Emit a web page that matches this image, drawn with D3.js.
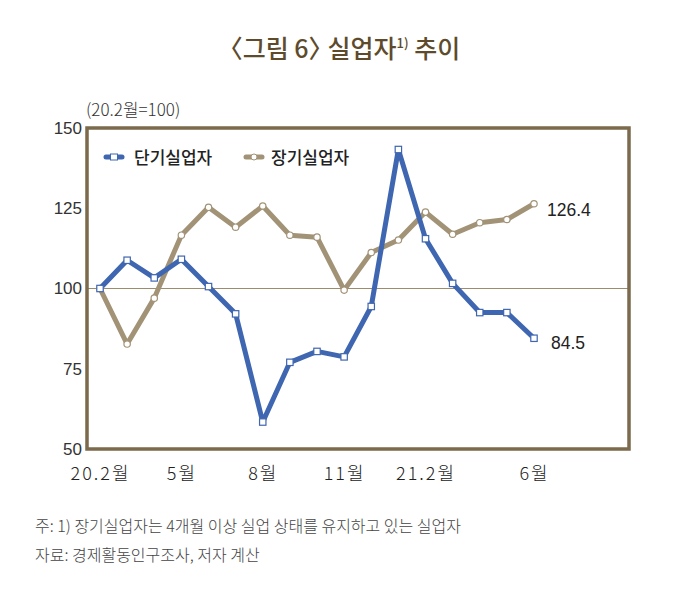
<!DOCTYPE html>
<html><head><meta charset="utf-8">
<script src="https://cdn.jsdelivr.net/npm/d3@7"></script>
<style>body{margin:0;background:#fff}svg{display:block}</style>
</head><body>
<svg id="c" width="687" height="591"></svg>
<script>
const months = ["20.2","20.3","20.4","20.5","20.6","20.7","20.8","20.9","20.10","20.11","20.12","21.1","21.2","21.3","21.4","21.5","21.6"];
const shortTerm = [100, 108.8, 103.3, 109.1, 100.6, 92.1, 58.4, 77.0, 80.4, 78.7, 94.4, 143.3, 115.5, 101.6, 92.5, 92.5, 84.5];
const longTerm = [100, 82.7, 97.0, 116.6, 125.3, 119.1, 125.7, 116.6, 116.0, 99.5, 111.2, 115.1, 123.8, 116.9, 120.5, 121.5, 126.4];
const yTicks = [50, 75, 100, 125, 150];
const xTickIdx = [0, 3, 6, 9, 12, 16];
const xTickLabels = ["20.2월", "5월", "8월", "11월", "21.2월", "6월"];
const seriesNames = ["단기실업자", "장기실업자"];

const svg = d3.select("#c");
const font = "'Noto Sans CJK KR','Noto Sans',sans-serif";
const numFont = "'Liberation Sans',Arial,sans-serif";
const blue = "#3f66b0", tan = "#a29377", frameC = "#7b6a4c";

const x = d3.scalePoint().domain(d3.range(months.length)).range([100, 534]);
const y = d3.scaleLinear().domain([50, 150]).range([449, 128]);

// title
const t = svg.append("text").attr("x", 339).attr("y", 58).attr("text-anchor", "middle")
  .attr("font-family", font).attr("font-size", 25).attr("font-weight", 500).attr("fill", "#5e4b2c");
t.append("tspan").text("〈그림 6〉");
t.append("tspan").attr("dx", -6).text("실업자");
t.append("tspan").attr("font-size", 13).attr("dy", -10).text("1)");
t.append("tspan").attr("dy", 10).text(" 추이");

// unit
svg.append("text").attr("x", 86).attr("y", 116).attr("font-family", font).attr("font-size", 17)
  .attr("font-weight", 300).attr("fill", "#333").text("(20.2월=100)");

// reference line at 100
svg.append("line").attr("x1", 88).attr("x2", 629).attr("y1", y(100)).attr("y2", y(100))
  .attr("stroke", "#9c8c6e").attr("stroke-width", 1.2);

// y axis labels
const yAxis = d3.axisLeft(y).tickValues(yTicks).tickSize(0).tickPadding(3);
const ya = svg.append("g").attr("transform", "translate(85,0)").call(yAxis);
ya.select(".domain").remove();
ya.selectAll("text").attr("font-family", numFont).attr("font-size", 17).attr("fill", "#333");

// x axis labels
const xAxis = d3.axisBottom(x).tickValues(xTickIdx).tickSize(0).tickPadding(0)
  .tickFormat((d) => xTickLabels[xTickIdx.indexOf(d)]);
const xa = svg.append("g").attr("transform", "translate(0,467)").call(xAxis);
xa.select(".domain").remove();
xa.selectAll("text").attr("font-family", font).attr("font-size", 18).attr("font-weight", 300)
  .attr("letter-spacing", 2).attr("fill", "#222");

// lines
const line = d3.line().x((d, i) => x(i)).y((d) => y(d));
svg.append("path").datum(longTerm).attr("d", line).attr("fill", "none").attr("stroke", tan)
  .attr("stroke-width", 5).attr("stroke-linejoin", "round");
svg.append("path").datum(shortTerm).attr("d", line).attr("fill", "none").attr("stroke", blue)
  .attr("stroke-width", 5).attr("stroke-linejoin", "round");
svg.selectAll(".lm").data(longTerm).join("circle").attr("cx", (d, i) => x(i)).attr("cy", (d) => y(d))
  .attr("r", 3.2).attr("fill", "#fff").attr("stroke", tan).attr("stroke-width", 1.2);
svg.selectAll(".sm").data(shortTerm).join("rect").attr("x", (d, i) => x(i) - 3.2).attr("y", (d) => y(d) - 3.2)
  .attr("width", 6.4).attr("height", 6.4).attr("fill", "#fff").attr("stroke", blue).attr("stroke-width", 1.2);

// end labels
svg.append("text").attr("x", 547).attr("y", y(longTerm[16]) + 12).attr("font-family", numFont)
  .attr("font-size", 17.5).attr("fill", "#222").text(longTerm[16].toFixed(1));
svg.append("text").attr("x", 551).attr("y", y(shortTerm[16]) + 11).attr("font-family", numFont)
  .attr("font-size", 17.5).attr("fill", "#222").text(shortTerm[16].toFixed(1));

// frame
svg.append("rect").attr("x", 87).attr("y", 128).attr("width", 542).attr("height", 321)
  .attr("fill", "none").attr("stroke", frameC).attr("stroke-width", 3.5);

// legend
const leg = [{c: blue, sq: true, x: 106, tx: 134}, {c: tan, sq: false, x: 246, tx: 271}];
leg.forEach((l, i) => {
  svg.append("line").attr("x1", l.x).attr("x2", l.x + 16).attr("y1", 157).attr("y2", 157)
    .attr("stroke", l.c).attr("stroke-width", 5).attr("stroke-linecap", "round");
  if (l.sq) svg.append("rect").attr("x", l.x + 4.5).attr("y", 154).attr("width", 7).attr("height", 6)
    .attr("fill", "#fff").attr("stroke", l.c).attr("stroke-width", 1);
  else svg.append("circle").attr("cx", l.x + 8).attr("cy", 157).attr("r", 3)
    .attr("fill", "#fff").attr("stroke", l.c).attr("stroke-width", 1);
  svg.append("text").attr("x", l.tx).attr("y", 163.5).attr("font-family", font).attr("font-size", 17)
    .attr("font-weight", 500).attr("fill", "#222").text(seriesNames[i]);
});

// footnotes
svg.append("text").attr("x", 35).attr("y", 532).attr("font-family", font).attr("font-size", 16)
  .attr("font-weight", 300).attr("fill", "#444").text("주: 1) 장기실업자는 4개월 이상 실업 상태를 유지하고 있는 실업자");
svg.append("text").attr("x", 35).attr("y", 561).attr("font-family", font).attr("font-size", 16)
  .attr("font-weight", 300).attr("fill", "#444").text("자료: 경제활동인구조사, 저자 계산");
</script>
</body></html>
